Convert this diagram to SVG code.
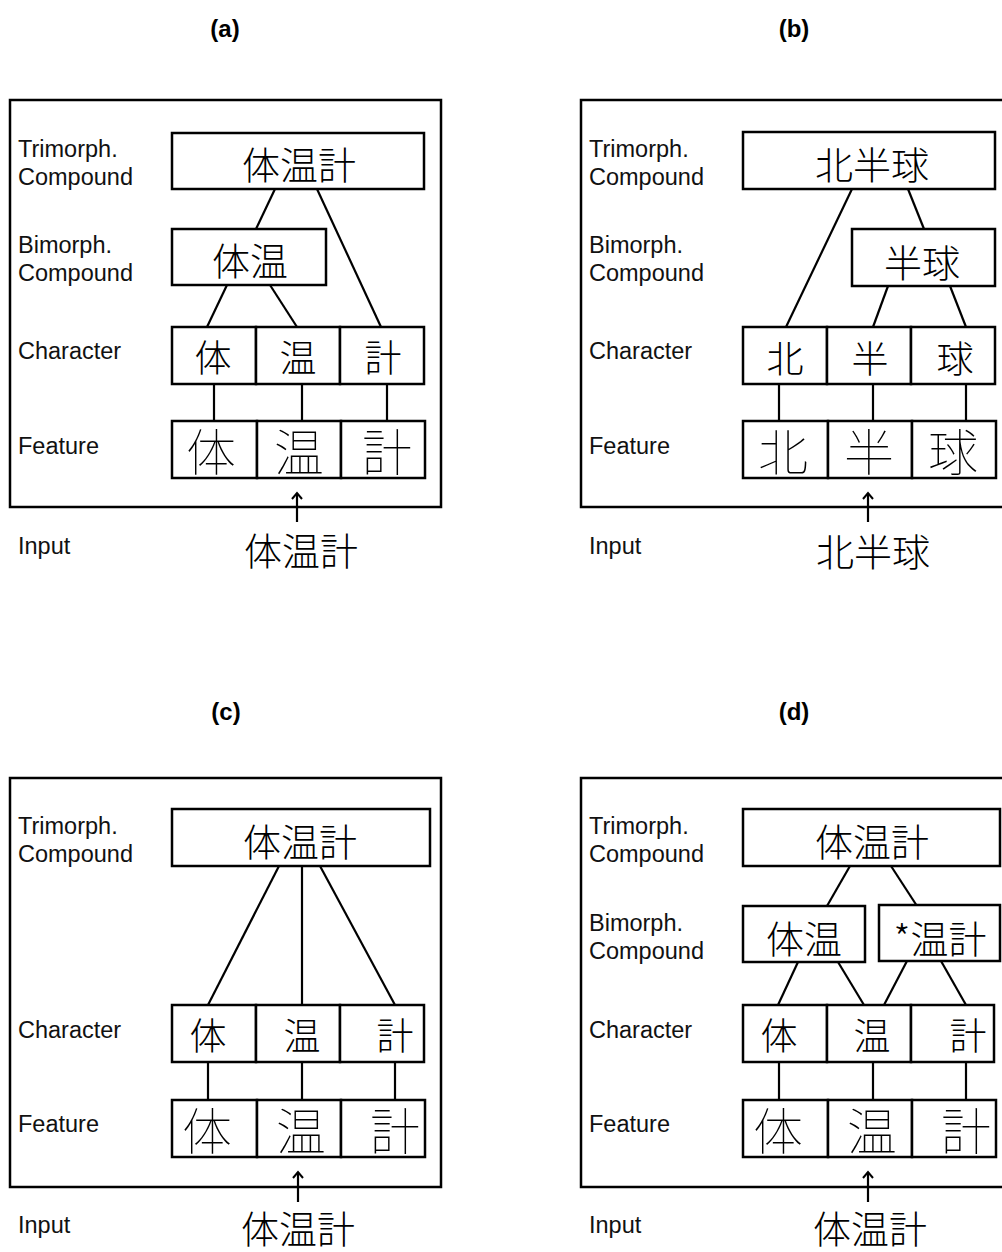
<svg xmlns="http://www.w3.org/2000/svg" width="1002" height="1252" viewBox="0 0 1002 1252">
<style>
.bg{fill:#fff}
.frame{fill:none;stroke:#000;stroke-width:2.5}
.box{fill:#fff;stroke:#000;stroke-width:2.5}
.ln{stroke:#000;stroke-width:2.2;fill:none}
.lab{font-family:"Liberation Sans",Arial,sans-serif;font-size:23.5px;fill:#111}
.ttl{font-family:"Liberation Sans",Arial,sans-serif;font-size:24px;font-weight:bold;fill:#000;text-anchor:middle}
.cjk{font-family:"Noto Sans CJK JP","Noto Sans CJK SC",sans-serif;fill:#000;text-anchor:middle;dominant-baseline:central;font-weight:300}
.t{font-size:38px}
.c{font-size:37px}
.f{font-size:50px;font-weight:100}
.in{font-size:38px}
</style>
<defs>
<marker id="ah" viewBox="0 0 12 12" refX="10" refY="6" markerWidth="12" markerHeight="12" markerUnits="userSpaceOnUse" orient="auto">
<path d="M4,1 L10,6 L4,11" fill="none" stroke="#000" stroke-width="2"/>
</marker>
</defs>
<rect class="bg" x="0" y="0" width="1002" height="1252"/>

<!-- Titles -->
<text class="ttl" x="225" y="37">(a)</text>
<text class="ttl" x="794" y="37">(b)</text>
<text class="ttl" x="226" y="720">(c)</text>
<text class="ttl" x="794" y="720">(d)</text>

<!-- Panel frames -->
<rect class="frame" x="10" y="100" width="431" height="407"/>
<rect class="frame" x="581" y="100" width="440" height="407"/>
<rect class="frame" x="10" y="778" width="431" height="409"/>
<rect class="frame" x="581" y="778" width="440" height="409"/>

<!-- Row labels -->
<g id="labels">
<text class="lab" x="18" y="157">Trimorph.</text>
<text class="lab" x="18" y="185">Compound</text>
<text class="lab" x="18" y="253">Bimorph.</text>
<text class="lab" x="18" y="281">Compound</text>
<text class="lab" x="18" y="359">Character</text>
<text class="lab" x="18" y="454">Feature</text>
<text class="lab" x="18" y="554">Input</text>

<text class="lab" x="589" y="157">Trimorph.</text>
<text class="lab" x="589" y="185">Compound</text>
<text class="lab" x="589" y="253">Bimorph.</text>
<text class="lab" x="589" y="281">Compound</text>
<text class="lab" x="589" y="359">Character</text>
<text class="lab" x="589" y="454">Feature</text>
<text class="lab" x="589" y="554">Input</text>

<text class="lab" x="18" y="834">Trimorph.</text>
<text class="lab" x="18" y="862">Compound</text>
<text class="lab" x="18" y="1038">Character</text>
<text class="lab" x="18" y="1132">Feature</text>
<text class="lab" x="18" y="1233">Input</text>

<text class="lab" x="589" y="834">Trimorph.</text>
<text class="lab" x="589" y="862">Compound</text>
<text class="lab" x="589" y="931">Bimorph.</text>
<text class="lab" x="589" y="959">Compound</text>
<text class="lab" x="589" y="1038">Character</text>
<text class="lab" x="589" y="1132">Feature</text>
<text class="lab" x="589" y="1233">Input</text>
</g>

<!-- Connectors -->
<g id="connectors">
<!-- a -->
<line class="ln" x1="275" y1="189" x2="256" y2="229"/>
<line class="ln" x1="317" y1="189" x2="381" y2="327"/>
<line class="ln" x1="227" y1="285" x2="207" y2="327"/>
<line class="ln" x1="270" y1="285" x2="297" y2="327"/>
<line class="ln" x1="214" y1="384" x2="214" y2="421"/>
<line class="ln" x1="302" y1="384" x2="302" y2="421"/>
<line class="ln" x1="387" y1="384" x2="387" y2="421"/>
<line class="ln" x1="297" y1="522" x2="297" y2="493" marker-end="url(#ah)"/>
<!-- b -->
<line class="ln" x1="852" y1="189" x2="786" y2="327"/>
<line class="ln" x1="908" y1="189" x2="924" y2="229"/>
<line class="ln" x1="888" y1="286" x2="873" y2="327"/>
<line class="ln" x1="950" y1="286" x2="966" y2="327"/>
<line class="ln" x1="779" y1="384" x2="779" y2="421"/>
<line class="ln" x1="873" y1="384" x2="873" y2="421"/>
<line class="ln" x1="966" y1="384" x2="966" y2="421"/>
<line class="ln" x1="868" y1="522" x2="868" y2="493" marker-end="url(#ah)"/>
<!-- c -->
<line class="ln" x1="279" y1="866" x2="208" y2="1005"/>
<line class="ln" x1="302" y1="866" x2="302" y2="1005"/>
<line class="ln" x1="320" y1="866" x2="395" y2="1005"/>
<line class="ln" x1="208" y1="1062" x2="208" y2="1100"/>
<line class="ln" x1="302" y1="1062" x2="302" y2="1100"/>
<line class="ln" x1="395" y1="1062" x2="395" y2="1100"/>
<line class="ln" x1="298" y1="1202" x2="298" y2="1172" marker-end="url(#ah)"/>
<!-- d -->
<line class="ln" x1="850" y1="866" x2="827" y2="906"/>
<line class="ln" x1="891" y1="866" x2="917" y2="906"/>
<line class="ln" x1="798" y1="962" x2="778" y2="1005"/>
<line class="ln" x1="838" y1="962" x2="864" y2="1005"/>
<line class="ln" x1="907" y1="961" x2="884" y2="1005"/>
<line class="ln" x1="941" y1="961" x2="966" y2="1005"/>
<line class="ln" x1="779" y1="1062" x2="779" y2="1100"/>
<line class="ln" x1="873" y1="1062" x2="873" y2="1100"/>
<line class="ln" x1="966" y1="1062" x2="966" y2="1100"/>
<line class="ln" x1="868" y1="1202" x2="868" y2="1172" marker-end="url(#ah)"/>
</g>

<!-- Panel (a) nodes -->
<g id="a-tri"><rect class="box" x="172" y="133" width="252" height="56"/><text class="cjk t" x="299" y="162">体温計</text></g>
<g id="a-bi"><rect class="box" x="172" y="229" width="154" height="56"/><text class="cjk t" x="250" y="258">体温</text></g>
<g id="a-char1"><rect class="box" x="172" y="327" width="84" height="57"/><text class="cjk c" x="213" y="356">体</text></g>
<g id="a-char2"><rect class="box" x="256" y="327" width="84" height="57"/><text class="cjk c" x="298" y="356">温</text></g>
<g id="a-char3"><rect class="box" x="340" y="327" width="84" height="57"/><text class="cjk c" x="383" y="356">計</text></g>
<g id="a-feat1"><rect class="box" x="172" y="421" width="85" height="57"/><text class="cjk f" x="211" y="449">体</text></g>
<g id="a-feat2"><rect class="box" x="257" y="421" width="84" height="57"/><text class="cjk f" x="299" y="449">温</text></g>
<g id="a-feat3"><rect class="box" x="341" y="421" width="84" height="57"/><text class="cjk f" x="387" y="449">計</text></g>
<g id="a-input"><text class="cjk in" x="301" y="548">体温計</text></g>

<!-- Panel (b) nodes -->
<g id="b-tri"><rect class="box" x="743" y="132" width="252" height="57"/><text class="cjk t" x="872" y="162">北半球</text></g>
<g id="b-bi"><rect class="box" x="852" y="229" width="143" height="57"/><text class="cjk t" x="922" y="260">半球</text></g>
<g id="b-char1"><rect class="box" x="743" y="327" width="84" height="57"/><text class="cjk c" x="785" y="357">北</text></g>
<g id="b-char2"><rect class="box" x="827" y="327" width="84" height="57"/><text class="cjk c" x="870" y="357">半</text></g>
<g id="b-char3"><rect class="box" x="911" y="327" width="84" height="57"/><text class="cjk c" x="955" y="357">球</text></g>
<g id="b-feat1"><rect class="box" x="743" y="421" width="85" height="57"/><text class="cjk f" x="783" y="449">北</text></g>
<g id="b-feat2"><rect class="box" x="828" y="421" width="84" height="57"/><text class="cjk f" x="869" y="449">半</text></g>
<g id="b-feat3"><rect class="box" x="912" y="421" width="84" height="57"/><text class="cjk f" x="953" y="449">球</text></g>
<g id="b-input"><text class="cjk in" x="873" y="549">北半球</text></g>

<!-- Panel (c) nodes -->
<g id="c-tri"><rect class="box" x="172" y="809" width="258" height="57"/><text class="cjk t" x="300" y="839">体温計</text></g>
<g id="c-char1"><rect class="box" x="172" y="1005" width="84" height="57"/><text class="cjk c" x="208" y="1034">体</text></g>
<g id="c-char2"><rect class="box" x="256" y="1005" width="84" height="57"/><text class="cjk c" x="302" y="1034">温</text></g>
<g id="c-char3"><rect class="box" x="340" y="1005" width="84" height="57"/><text class="cjk c" x="395" y="1034">計</text></g>
<g id="c-feat1"><rect class="box" x="172" y="1100" width="85" height="57"/><text class="cjk f" x="207" y="1128">体</text></g>
<g id="c-feat2"><rect class="box" x="257" y="1100" width="84" height="57"/><text class="cjk f" x="301" y="1128">温</text></g>
<g id="c-feat3"><rect class="box" x="341" y="1100" width="84" height="57"/><text class="cjk f" x="395" y="1128">計</text></g>
<g id="c-input"><text class="cjk in" x="298" y="1226">体温計</text></g>

<!-- Panel (d) nodes -->
<g id="d-tri"><rect class="box" x="743" y="809" width="257" height="57"/><text class="cjk t" x="872" y="839">体温計</text></g>
<g id="d-bi1"><rect class="box" x="743" y="906" width="122" height="56"/><text class="cjk t" x="804" y="936">体温</text></g>
<g id="d-bi2"><rect class="box" x="879" y="905" width="121" height="56"/><text class="cjk t" x="940" y="936">*温計</text></g>
<g id="d-char1"><rect class="box" x="743" y="1005" width="84" height="57"/><text class="cjk c" x="779" y="1034">体</text></g>
<g id="d-char2"><rect class="box" x="827" y="1005" width="84" height="57"/><text class="cjk c" x="872" y="1034">温</text></g>
<g id="d-char3"><rect class="box" x="911" y="1005" width="83" height="57"/><text class="cjk c" x="968" y="1034">計</text></g>
<g id="d-feat1"><rect class="box" x="743" y="1100" width="85" height="57"/><text class="cjk f" x="778" y="1128">体</text></g>
<g id="d-feat2"><rect class="box" x="828" y="1100" width="84" height="57"/><text class="cjk f" x="872" y="1128">温</text></g>
<g id="d-feat3"><rect class="box" x="912" y="1100" width="84" height="57"/><text class="cjk f" x="966" y="1128">計</text></g>
<g id="d-input"><text class="cjk in" x="870" y="1226">体温計</text></g>
</svg>
